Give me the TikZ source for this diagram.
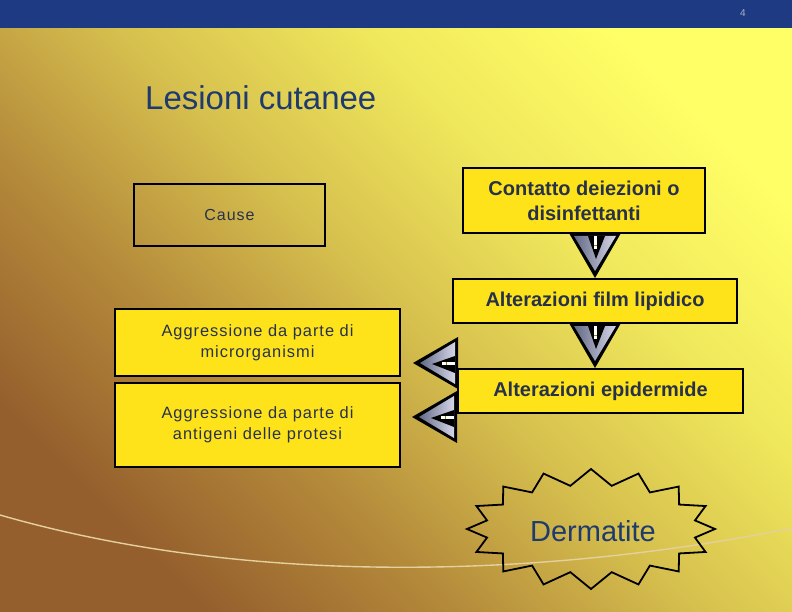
\documentclass[tikz,border=0pt]{standalone}
\usepackage{fontspec}
\setmainfont{Liberation Sans}
\newfontfamily\spaziato[LetterSpace=6]{Liberation Sans}
\usepackage{tikz}
\usepackage{xcolor}

\definecolor{fascia}{HTML}{1E3A82}
\definecolor{giallo}{HTML}{FFE31A}
\definecolor{testo}{HTML}{27324A}
\definecolor{blutitolo}{HTML}{1F3A6E}
\definecolor{marrone}{HTML}{955F2D}
\definecolor{bruno}{HTML}{B48A3A}
\definecolor{medio}{HTML}{D6C04E}
\definecolor{giallino}{HTML}{F0E85C}
\definecolor{chiaro}{HTML}{FFFF66}
\definecolor{curva}{HTML}{E4D09C}
\definecolor{ardesia}{HTML}{3C4468}
\definecolor{lavanda}{HTML}{C4C4DE}
\definecolor{numpag}{HTML}{A8B0C8}

\pgfdeclarehorizontalshading{sfondo}{100bp}{color(0bp)=(marrone); color(25bp)=(marrone); color(37.5bp)=(bruno); color(50bp)=(medio); color(62.5bp)=(giallino); color(75bp)=(chiaro); color(100bp)=(chiaro)}

\tikzset{
  scatola/.style={draw=black, line width=2pt, fill=giallo, inner sep=0pt, align=center, text=testo},
  freccia/.pic={
    \fill [black] (-26,-45) -- (26,-45) -- (0,0) -- cycle;
    \shade [left color=ardesia!80, middle color=white, right color=lavanda!70] (-21,-42) -- (21,-42) -- (0,-7) -- cycle;
    \fill [black] (-7,-42) -- (10,-42) -- (1,-19) -- cycle;
    \fill [white] (-1,-42) rectangle (2,-29);
    \draw [giallo!60!black, line width=0.8pt] (-1,-33) -- (2,-33);
  }
}

\begin{document}
\begin{tikzpicture}[x=1pt, y=-1pt]

\useasboundingbox (0,0) rectangle (792,612);
\shade [shading=sfondo, shading angle=45] (0,0) rectangle (792,612);
\fill [fascia] (0,0) rectangle (792,28);
\node [text=numpag, font=\fontsize{10}{10}\selectfont] (pagina) at (743,13) {4};

\draw [curva, line width=1.4pt] (0,515) .. controls (260,590) and (560,575) .. (792,528);

\node [anchor=base west, inner sep=0pt, text=blutitolo, font=\fontsize{33}{33}\selectfont] (titolo) at (145,110) {Lesioni cutanee};

\node [scatola, fill=none, minimum width=191pt, minimum height=62pt, font=\spaziato\fontsize{16}{19}\selectfont] (cause) at (229.5,215) {Cause};

\node [scatola, minimum width=242pt, minimum height=65pt, font=\bfseries\fontsize{20}{25}\selectfont] (contatto) at (584,200.5) {Contatto deiezioni o\\disinfettanti};
\node [scatola, minimum width=284pt, minimum height=44pt, font=\bfseries\fontsize{20}{25}\selectfont] (film) at (595,301) {Alterazioni film lipidico};
\node [scatola, minimum width=285pt, minimum height=44pt, font=\bfseries\fontsize{20}{25}\selectfont] (epi) at (600.5,391) {Alterazioni epidermide};

\node [scatola, minimum width=285pt, minimum height=67pt, font=\spaziato\fontsize{16.4}{21}\selectfont] (micro) at (257.5,342.5) {Aggressione da parte di\\microrganismi};
\node [scatola, minimum width=285pt, minimum height=84pt, font=\spaziato\fontsize{16.4}{21}\selectfont] (protesi) at (257.5,425) {Aggressione da parte di\\antigeni delle protesi};

\pic at (film.north) {freccia};
\pic at (epi.north -| film.south) {freccia};
\pic [rotate=-90] at (413,363) {freccia};
\pic [rotate=-90] at (412,417) {freccia};

\draw [black, line width=1.8pt] (715,529) \foreach \k in {1,...,16} { -- ({591+106*cos(22.5*\k-11.25)},{529+44*sin(22.5*\k-11.25)}) -- ({591+124*cos(22.5*\k)},{529+60*sin(22.5*\k)}) } -- cycle;
\node [anchor=base, inner sep=0pt, text=blutitolo, font=\fontsize{29}{29}\selectfont] (dermatite) at (593,541) {Dermatite};

\end{tikzpicture}
\end{document}
